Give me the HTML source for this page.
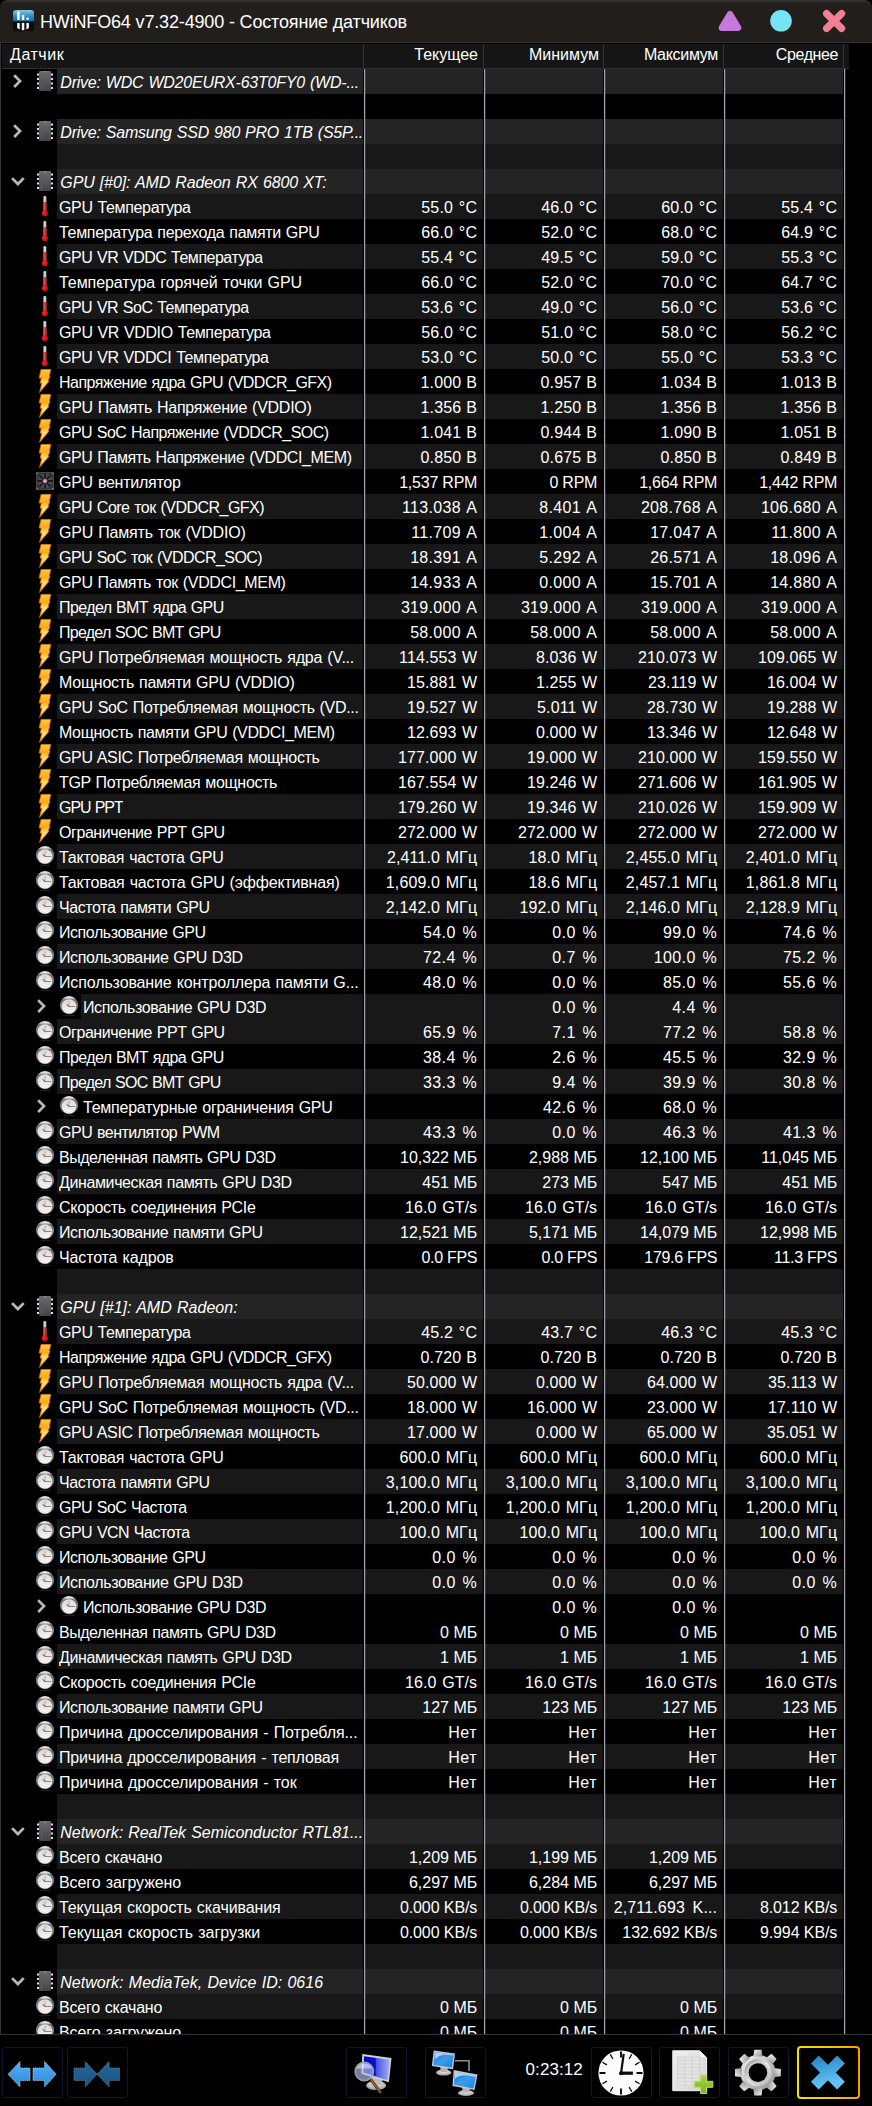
<!DOCTYPE html>
<html lang="ru"><head><meta charset="utf-8"><title>HWiNFO64 v7.32-4900 - Состояние датчиков</title>
<style>
html,body{margin:0;padding:0;background:#000}
body{width:872px;height:2106px;position:relative;overflow:hidden;font-family:"Liberation Sans",sans-serif;color:#fff;font-size:16px}
#tb{position:absolute;left:0;top:0;width:872px;height:42px;box-sizing:border-box;background:#211e1c;border-radius:8px 8px 0 0;border-top:2px solid #313030}
#tt{position:absolute;left:40px;top:-1px;line-height:42px;font-size:18px;white-space:nowrap;letter-spacing:-0.16px}
#l42{position:absolute;left:0;top:42px;width:872px;height:1px;background:#323232}
#hd{position:absolute;left:2px;top:44px;width:847px;height:24px;background:#151515}
#l68{position:absolute;left:2px;top:68px;width:847px;height:1px;background:#2f2f2f}
#lb{position:absolute;left:0;top:42px;width:1px;height:1993px;background:#333}
#l2034{position:absolute;left:0;top:2034px;width:872px;height:1px;background:#333}
.hs{position:absolute;top:44px;width:1px;height:24px;background:#343434}
.ht{position:absolute;top:42px;line-height:25px;white-space:nowrap}
.sep{position:absolute;top:69px;width:1px;height:1965px;background:#a6a6ae;box-shadow:1px 0 0 rgba(166,166,174,.22)}
#list{position:absolute;left:0;top:0;width:872px;height:2034px;overflow:hidden}
.r{position:absolute;left:0;width:872px;height:25px;line-height:25px;white-space:nowrap;
 background:linear-gradient(to right,transparent var(--s,57px),var(--c) var(--s,57px),var(--c) 363px,transparent 363px,transparent 365px,var(--c) 365px,var(--c) 483px,transparent 483px,transparent 485px,var(--c) 485px,var(--c) 603px,transparent 603px,transparent 605px,var(--c) 605px,var(--c) 723px,transparent 723px,transparent 725px,var(--c) 725px,var(--c) 843px,transparent 843px)}
.g{--c:#181818}.b{--c:#000}.p{--c:#242424}
.sub{--s:81px}
.l{position:absolute;left:59px;top:1px;max-width:303px;overflow:hidden;word-spacing:.8px}
.grp .l{font-style:italic;left:60.3px}
.sub .l{left:83px}
.v{position:absolute;top:1px;text-align:right}
.uc{word-spacing:1px;letter-spacing:.2px}.ua{word-spacing:1.5px;letter-spacing:.3px}.uw{word-spacing:1px;letter-spacing:.1px}.um{word-spacing:1px;letter-spacing:.13px}.up{word-spacing:2px;letter-spacing:.4px}.ug{word-spacing:1px;letter-spacing:.1px}.uf{letter-spacing:-.3px}.uv{word-spacing:.5px;letter-spacing:.15px}.uk{letter-spacing:-.1px}.un{letter-spacing:.6px}.ux{word-spacing:3px;letter-spacing:.15px}.ur{letter-spacing:-.22px}
.v1{right:394.8px}.v2{right:274.8px}.v3{right:154.8px}.v4{right:34.8px}
.ic{position:absolute;left:35px;top:0;width:20px;height:25px}
.sub .ic{left:59px}
.ex{position:absolute;left:10px;top:4px;width:16px;height:16px}
.sub .ex{left:34px}
#bar{position:absolute;left:0;top:2035px;width:872px;height:71px;background:#000}
.bt{position:absolute;top:2047px;width:59px;height:49px;border:1px solid #0e1732;border-radius:3px;background:#000}
#bx{position:absolute;left:797px;top:2046px;width:63px;height:53px;border-radius:4px;background:linear-gradient(to right,#f2e400,#f6c800 55%,#ff9a00)}
#bx i{position:absolute;left:2px;top:2px;right:2px;bottom:2px;background:#000;border-radius:2px}
#time{position:absolute;left:525.5px;letter-spacing:.1px;top:2057px;line-height:25px;font-size:17px}
</style></head><body>
<svg width="0" height="0" style="position:absolute">
<defs>
<linearGradient id="gchip" x1="0" y1="0" x2="0" y2="1"><stop offset="0" stop-color="#6c6c70"/><stop offset="1" stop-color="#444446"/></linearGradient>
<linearGradient id="gtube" x1="0" y1="0" x2="1" y2="0"><stop offset="0" stop-color="#9a9a9a"/><stop offset=".5" stop-color="#e6e6e6"/><stop offset="1" stop-color="#9a9a9a"/></linearGradient>
<linearGradient id="gred" x1="0" y1="0" x2="1" y2="0"><stop offset="0" stop-color="#c01818"/><stop offset=".4" stop-color="#e84a4a"/><stop offset="1" stop-color="#c01010"/></linearGradient>
<radialGradient id="gbulb" cx=".4" cy=".4" r=".7"><stop offset="0" stop-color="#f02828"/><stop offset="1" stop-color="#b80808"/></radialGradient>
<linearGradient id="gbolt" x1="0" y1="0" x2="0" y2="1"><stop offset="0" stop-color="#ffc840"/><stop offset=".35" stop-color="#ffa818"/><stop offset=".6" stop-color="#ffe070"/><stop offset="1" stop-color="#ffb020"/></linearGradient>
<linearGradient id="gring" x1="0" y1="0" x2="0" y2="1"><stop offset="0" stop-color="#f4f4f4"/><stop offset=".1" stop-color="#d8d8d8"/><stop offset=".2" stop-color="#727272"/><stop offset=".6" stop-color="#808080"/><stop offset="1" stop-color="#3c3c3c"/></linearGradient>
<linearGradient id="gface" x1="0" y1="0" x2="0" y2="1"><stop offset="0" stop-color="#dadada"/><stop offset=".5" stop-color="#e8e8e8"/><stop offset="1" stop-color="#f6f6f6"/></linearGradient>
<symbol id="chip" viewBox="0 0 20 25"><rect x="4" y="2" width="12" height="20" rx="1" fill="url(#gchip)"/><path d="M8.5 2a1.5 1.5 0 0 0 3 0z" fill="#8a8a8e"/><rect x="6" y="13" width="1.2" height="8" fill="#66666a" opacity=".6"/><g fill="#e4e4e4"><rect x="2" y="4.5" width="2" height="2"/><rect x="2" y="9" width="2" height="2"/><rect x="2" y="13.5" width="2" height="2"/><rect x="2" y="18" width="2" height="2"/><rect x="16" y="4.5" width="2" height="2"/><rect x="16" y="9" width="2" height="2"/><rect x="16" y="13.5" width="2" height="2"/><rect x="16" y="18" width="2" height="2"/></g></symbol>
<symbol id="tmp" viewBox="0 0 20 25"><rect x="8.3" y="2" width="3.1" height="16" rx="1.4" fill="url(#gtube)"/><rect x="8.3" y="8" width="3.1" height="10" fill="url(#gred)"/><circle cx="9.9" cy="19.3" r="3" fill="url(#gbulb)"/></symbol>
<symbol id="pwr" viewBox="0 0 20 25"><path d="M6.1 .2L15.9 .2L14.5 6.7L15 7.4L13.2 11.8L14.1 12.2L4.5 23.5L6.8 14L5 14.3L6.3 9.2L4 9Z" fill="url(#gbolt)" stroke="#c86400" stroke-width=".7" stroke-linejoin="round"/></symbol>
<symbol id="fan" viewBox="0 0 20 25"><rect x="1" y="3" width="18" height="18" fill="#343434"/><rect x="1.5" y="3.5" width="17" height="17" fill="none" stroke="#484848"/><circle cx="10" cy="12" r="7.6" fill="#494949"/><g stroke="#080808" stroke-width="1.3"><path d="M10 4.4V19.6M2.4 12H17.6M4.6 6.6L15.4 17.4M15.4 6.6L4.6 17.4"/></g><g fill="#777"><circle cx="2.3" cy="4.3" r=".9"/><circle cx="17.7" cy="4.3" r=".9"/><circle cx="2.3" cy="19.7" r=".9"/><circle cx="17.7" cy="19.7" r=".9"/></g><circle cx="10" cy="12" r="2.5" fill="#8e3846"/><circle cx="10" cy="12" r="1.8" fill="#bcc0c2"/></symbol>
<symbol id="clk" viewBox="0 0 20 25"><ellipse cx="10" cy="21.3" rx="6.5" ry=".9" fill="#1c1c1c"/><circle cx="10" cy="11.2" r="9.1" fill="url(#gring)"/><circle cx="10" cy="12.5" r="7.3" fill="url(#gface)"/><path d="M10 12.4V7" stroke="#e69a62" stroke-width="1"/><path d="M10.4 12.5H16.4" stroke="#6a6a6a" stroke-width=".8"/><path d="M10 12.4L7.6 10.4" stroke="#3a3a3a" stroke-width="1"/><circle cx="10" cy="12.5" r=".8" fill="#c87840"/><g fill="#b8b8b8"><circle cx="10" cy="18.4" r=".4"/><circle cx="4.2" cy="12.5" r=".4"/><circle cx="15.8" cy="12.5" r=".4"/><circle cx="7" cy="17.5" r=".35"/><circle cx="13" cy="17.5" r=".35"/><circle cx="5" cy="15.4" r=".35"/><circle cx="15" cy="15.4" r=".35"/></g></symbol>
<symbol id="cvr" viewBox="0 0 16 16"><path d="M4.15 2.25L10 8.1L4.15 13.95" fill="none" stroke="#b9b9b9" stroke-width="2.7" stroke-linejoin="miter"/></symbol>
<symbol id="cvd" viewBox="0 0 16 16"><path d="M2.05 5.15L7.9 11L13.75 5.15" fill="none" stroke="#b9b9b9" stroke-width="2.7" stroke-linejoin="miter"/></symbol>
</defs></svg>

<div id="tb">
<svg style="position:absolute;left:12.8px;top:8.4px" width="21" height="21.5" viewBox="0 0 21 22" preserveAspectRatio="none"><defs><linearGradient id="gapp" x1="0" y1="0" x2="0" y2="1"><stop offset="0" stop-color="#8cc4e0"/><stop offset=".6" stop-color="#2a86c0"/><stop offset="1" stop-color="#0f6fb0"/></linearGradient><clipPath id="capp"><rect x="0" y="0" width="21" height="22" rx="3"/></clipPath></defs><g clip-path="url(#capp)"><rect width="21" height="22" fill="#0c0c0c"/><rect width="21" height="11.5" fill="url(#gapp)"/><g fill="#fff"><rect x="4.2" y="1.6" width="2.5" height="8.6"/><rect x="8.8" y="5" width="2.5" height="5.2"/><rect x="13.4" y="7.8" width="2.5" height="2.4" rx="1"/><path d="M4.2 13.2h2.5v6.8l-2.5-1.6z"/><rect x="8.8" y="13.2" width="2.5" height="7.4"/><path d="M13.4 13.2h2.5v5.2l-2.5 1.6z"/></g></g></svg>
<div id="tt">HWiNFO64 v7.32-4900 - Состояние датчиков</div>
<svg style="position:absolute;left:716px;top:6px" width="28" height="26" viewBox="0 0 28 26"><path d="M14 6.1L22.1 19.7H5.9Z" fill="#c678dd" stroke="#c678dd" stroke-width="6.4" stroke-linejoin="round"/></svg>
<svg style="position:absolute;left:768px;top:6px" width="26" height="26" viewBox="0 0 26 26"><circle cx="13" cy="12.8" r="10.8" fill="#76e4f2"/></svg>
<svg style="position:absolute;left:820px;top:6px" width="28" height="26" viewBox="0 0 28 26"><path d="M6.6 5.6L21.6 20.4M21.6 5.6L6.6 20.4" stroke="#f47e96" stroke-width="7.2" stroke-linecap="round"/></svg>
</div>
<div id="l42"></div>
<div id="list">
<div id="hd"></div><div id="l68"></div>
<div class="hs" style="left:363px"></div><div class="hs" style="left:483px"></div><div class="hs" style="left:603px"></div><div class="hs" style="left:723px"></div><div class="hs" style="left:843px"></div>
<div class="ht" style="left:10px;letter-spacing:.55px">Датчик</div>
<div class="ht" style="right:394px">Текущее</div>
<div class="ht" style="right:273px">Минимум</div>
<div class="ht" style="right:154px;letter-spacing:-.3px">Максимум</div>
<div class="ht" style="right:34px;letter-spacing:-.4px">Среднее</div>
<div class="r p grp" style="top:69px"><svg class="ex" viewBox="0 0 16 16"><use href="#cvr"/></svg><svg class="ic" viewBox="0 0 20 25"><use href="#chip"/></svg><span class="l" style="letter-spacing:-0.218px">Drive: WDC WD20EURX-63T0FY0 (WD-...</span></div>
<div class="r b" style="top:94px"></div>
<div class="r p grp" style="top:119px"><svg class="ex" viewBox="0 0 16 16"><use href="#cvr"/></svg><svg class="ic" viewBox="0 0 20 25"><use href="#chip"/></svg><span class="l" style="letter-spacing:-0.224px">Drive: Samsung SSD 980 PRO 1TB (S5P...</span></div>
<div class="r g" style="top:144px"></div>
<div class="r p grp" style="top:169px"><svg class="ex" viewBox="0 0 16 16"><use href="#cvd"/></svg><svg class="ic" viewBox="0 0 20 25"><use href="#chip"/></svg><span class="l" style="letter-spacing:-0.11px">GPU [#0]: AMD Radeon RX 6800 XT:</span></div>
<div class="r g" style="top:194px"><svg class="ic" viewBox="0 0 20 25"><use href="#tmp"/></svg><span class="l" style="letter-spacing:-0.349px">GPU Температура</span><span class="v v1 uc">55.0 °C</span><span class="v v2 uc">46.0 °C</span><span class="v v3 uc">60.0 °C</span><span class="v v4 uc">55.4 °C</span></div>
<div class="r b" style="top:219px"><svg class="ic" viewBox="0 0 20 25"><use href="#tmp"/></svg><span class="l" style="letter-spacing:-0.317px">Температура перехода памяти GPU</span><span class="v v1 uc">66.0 °C</span><span class="v v2 uc">52.0 °C</span><span class="v v3 uc">68.0 °C</span><span class="v v4 uc">64.9 °C</span></div>
<div class="r g" style="top:244px"><svg class="ic" viewBox="0 0 20 25"><use href="#tmp"/></svg><span class="l" style="letter-spacing:-0.491px">GPU VR VDDC Температура</span><span class="v v1 uc">55.4 °C</span><span class="v v2 uc">49.5 °C</span><span class="v v3 uc">59.0 °C</span><span class="v v4 uc">55.3 °C</span></div>
<div class="r b" style="top:269px"><svg class="ic" viewBox="0 0 20 25"><use href="#tmp"/></svg><span class="l" style="letter-spacing:-0.074px">Температура горячей точки GPU</span><span class="v v1 uc">66.0 °C</span><span class="v v2 uc">52.0 °C</span><span class="v v3 uc">70.0 °C</span><span class="v v4 uc">64.7 °C</span></div>
<div class="r g" style="top:294px"><svg class="ic" viewBox="0 0 20 25"><use href="#tmp"/></svg><span class="l" style="letter-spacing:-0.503px">GPU VR SoC Температура</span><span class="v v1 uc">53.6 °C</span><span class="v v2 uc">49.0 °C</span><span class="v v3 uc">56.0 °C</span><span class="v v4 uc">53.6 °C</span></div>
<div class="r b" style="top:319px"><svg class="ic" viewBox="0 0 20 25"><use href="#tmp"/></svg><span class="l" style="letter-spacing:-0.359px">GPU VR VDDIO Температура</span><span class="v v1 uc">56.0 °C</span><span class="v v2 uc">51.0 °C</span><span class="v v3 uc">58.0 °C</span><span class="v v4 uc">56.2 °C</span></div>
<div class="r g" style="top:344px"><svg class="ic" viewBox="0 0 20 25"><use href="#tmp"/></svg><span class="l" style="letter-spacing:-0.405px">GPU VR VDDCI Температура</span><span class="v v1 uc">53.0 °C</span><span class="v v2 uc">50.0 °C</span><span class="v v3 uc">55.0 °C</span><span class="v v4 uc">53.3 °C</span></div>
<div class="r b" style="top:369px"><svg class="ic" viewBox="0 0 20 25"><use href="#pwr"/></svg><span class="l" style="letter-spacing:-0.507px">Напряжение ядра GPU (VDDCR_GFX)</span><span class="v v1 uv">1.000 В</span><span class="v v2 uv">0.957 В</span><span class="v v3 uv">1.034 В</span><span class="v v4 uv">1.013 В</span></div>
<div class="r g" style="top:394px"><svg class="ic" viewBox="0 0 20 25"><use href="#pwr"/></svg><span class="l" style="letter-spacing:-0.264px">GPU Память Напряжение (VDDIO)</span><span class="v v1 uv">1.356 В</span><span class="v v2 uv">1.250 В</span><span class="v v3 uv">1.356 В</span><span class="v v4 uv">1.356 В</span></div>
<div class="r b" style="top:419px"><svg class="ic" viewBox="0 0 20 25"><use href="#pwr"/></svg><span class="l" style="letter-spacing:-0.528px">GPU SoC Напряжение (VDDCR_SOC)</span><span class="v v1 uv">1.041 В</span><span class="v v2 uv">0.944 В</span><span class="v v3 uv">1.090 В</span><span class="v v4 uv">1.051 В</span></div>
<div class="r g" style="top:444px"><svg class="ic" viewBox="0 0 20 25"><use href="#pwr"/></svg><span class="l" style="letter-spacing:-0.393px">GPU Память Напряжение (VDDCI_MEM)</span><span class="v v1 uv">0.850 В</span><span class="v v2 uv">0.675 В</span><span class="v v3 uv">0.850 В</span><span class="v v4 uv">0.849 В</span></div>
<div class="r b" style="top:469px"><svg class="ic" viewBox="0 0 20 25"><use href="#fan"/></svg><span class="l" style="letter-spacing:-0.256px">GPU вентилятор</span><span class="v v1 ur">1,537 RPM</span><span class="v v2 ur">0 RPM</span><span class="v v3 ur">1,664 RPM</span><span class="v v4 ur">1,442 RPM</span></div>
<div class="r g" style="top:494px"><svg class="ic" viewBox="0 0 20 25"><use href="#pwr"/></svg><span class="l" style="letter-spacing:-0.516px">GPU Core ток (VDDCR_GFX)</span><span class="v v1 ua">113.038 A</span><span class="v v2 ua">8.401 A</span><span class="v v3 ua">208.768 A</span><span class="v v4 ua">106.680 A</span></div>
<div class="r b" style="top:519px"><svg class="ic" viewBox="0 0 20 25"><use href="#pwr"/></svg><span class="l" style="letter-spacing:-0.178px">GPU Память ток (VDDIO)</span><span class="v v1 ua">11.709 A</span><span class="v v2 ua">1.004 A</span><span class="v v3 ua">17.047 A</span><span class="v v4 ua">11.800 A</span></div>
<div class="r g" style="top:544px"><svg class="ic" viewBox="0 0 20 25"><use href="#pwr"/></svg><span class="l" style="letter-spacing:-0.548px">GPU SoC ток (VDDCR_SOC)</span><span class="v v1 ua">18.391 A</span><span class="v v2 ua">5.292 A</span><span class="v v3 ua">26.571 A</span><span class="v v4 ua">18.096 A</span></div>
<div class="r b" style="top:569px"><svg class="ic" viewBox="0 0 20 25"><use href="#pwr"/></svg><span class="l" style="letter-spacing:-0.356px">GPU Память ток (VDDCI_MEM)</span><span class="v v1 ua">14.933 A</span><span class="v v2 ua">0.000 A</span><span class="v v3 ua">15.701 A</span><span class="v v4 ua">14.880 A</span></div>
<div class="r g" style="top:594px"><svg class="ic" viewBox="0 0 20 25"><use href="#pwr"/></svg><span class="l" style="letter-spacing:-0.598px">Предел ВМТ ядра GPU</span><span class="v v1 ua">319.000 A</span><span class="v v2 ua">319.000 A</span><span class="v v3 ua">319.000 A</span><span class="v v4 ua">319.000 A</span></div>
<div class="r b" style="top:619px"><svg class="ic" viewBox="0 0 20 25"><use href="#pwr"/></svg><span class="l" style="letter-spacing:-0.736px">Предел SOC ВМТ GPU</span><span class="v v1 ua">58.000 A</span><span class="v v2 ua">58.000 A</span><span class="v v3 ua">58.000 A</span><span class="v v4 ua">58.000 A</span></div>
<div class="r g" style="top:644px"><svg class="ic" viewBox="0 0 20 25"><use href="#pwr"/></svg><span class="l" style="letter-spacing:-0.211px">GPU Потребляемая мощность ядра (V...</span><span class="v v1 uw">114.553 W</span><span class="v v2 uw">8.036 W</span><span class="v v3 uw">210.073 W</span><span class="v v4 uw">109.065 W</span></div>
<div class="r b" style="top:669px"><svg class="ic" viewBox="0 0 20 25"><use href="#pwr"/></svg><span class="l" style="letter-spacing:-0.245px">Мощность памяти GPU (VDDIO)</span><span class="v v1 uw">15.881 W</span><span class="v v2 uw">1.255 W</span><span class="v v3 uw">23.119 W</span><span class="v v4 uw">16.004 W</span></div>
<div class="r g" style="top:694px"><svg class="ic" viewBox="0 0 20 25"><use href="#pwr"/></svg><span class="l" style="letter-spacing:-0.318px">GPU SoC Потребляемая мощность (VD...</span><span class="v v1 uw">19.527 W</span><span class="v v2 uw">5.011 W</span><span class="v v3 uw">28.730 W</span><span class="v v4 uw">19.288 W</span></div>
<div class="r b" style="top:719px"><svg class="ic" viewBox="0 0 20 25"><use href="#pwr"/></svg><span class="l" style="letter-spacing:-0.385px">Мощность памяти GPU (VDDCI_MEM)</span><span class="v v1 uw">12.693 W</span><span class="v v2 uw">0.000 W</span><span class="v v3 uw">13.346 W</span><span class="v v4 uw">12.648 W</span></div>
<div class="r g" style="top:744px"><svg class="ic" viewBox="0 0 20 25"><use href="#pwr"/></svg><span class="l" style="letter-spacing:-0.321px">GPU ASIC Потребляемая мощность</span><span class="v v1 uw">177.000 W</span><span class="v v2 uw">19.000 W</span><span class="v v3 uw">210.000 W</span><span class="v v4 uw">159.550 W</span></div>
<div class="r b" style="top:769px"><svg class="ic" viewBox="0 0 20 25"><use href="#pwr"/></svg><span class="l" style="letter-spacing:-0.334px">TGP Потребляемая мощность</span><span class="v v1 uw">167.554 W</span><span class="v v2 uw">19.246 W</span><span class="v v3 uw">271.606 W</span><span class="v v4 uw">161.905 W</span></div>
<div class="r g" style="top:794px"><svg class="ic" viewBox="0 0 20 25"><use href="#pwr"/></svg><span class="l" style="letter-spacing:-1.064px">GPU PPT</span><span class="v v1 uw">179.260 W</span><span class="v v2 uw">19.346 W</span><span class="v v3 uw">210.026 W</span><span class="v v4 uw">159.909 W</span></div>
<div class="r b" style="top:819px"><svg class="ic" viewBox="0 0 20 25"><use href="#pwr"/></svg><span class="l" style="letter-spacing:-0.429px">Ограничение PPT GPU</span><span class="v v1 uw">272.000 W</span><span class="v v2 uw">272.000 W</span><span class="v v3 uw">272.000 W</span><span class="v v4 uw">272.000 W</span></div>
<div class="r g" style="top:844px"><svg class="ic" viewBox="0 0 20 25"><use href="#clk"/></svg><span class="l" style="letter-spacing:-0.23px">Тактовая частота GPU</span><span class="v v1 um">2,411.0 МГц</span><span class="v v2 um">18.0 МГц</span><span class="v v3 um">2,455.0 МГц</span><span class="v v4 um">2,401.0 МГц</span></div>
<div class="r b" style="top:869px"><svg class="ic" viewBox="0 0 20 25"><use href="#clk"/></svg><span class="l" style="letter-spacing:-0.184px">Тактовая частота GPU (эффективная)</span><span class="v v1 um">1,609.0 МГц</span><span class="v v2 um">18.6 МГц</span><span class="v v3 um">2,457.1 МГц</span><span class="v v4 um">1,861.8 МГц</span></div>
<div class="r g" style="top:894px"><svg class="ic" viewBox="0 0 20 25"><use href="#clk"/></svg><span class="l" style="letter-spacing:-0.409px">Частота памяти GPU</span><span class="v v1 um">2,142.0 МГц</span><span class="v v2 um">192.0 МГц</span><span class="v v3 um">2,146.0 МГц</span><span class="v v4 um">2,128.9 МГц</span></div>
<div class="r b" style="top:919px"><svg class="ic" viewBox="0 0 20 25"><use href="#clk"/></svg><span class="l" style="letter-spacing:-0.45px">Использование GPU</span><span class="v v1 up">54.0 %</span><span class="v v2 up">0.0 %</span><span class="v v3 up">99.0 %</span><span class="v v4 up">74.6 %</span></div>
<div class="r g" style="top:944px"><svg class="ic" viewBox="0 0 20 25"><use href="#clk"/></svg><span class="l" style="letter-spacing:-0.376px">Использование GPU D3D</span><span class="v v1 up">72.4 %</span><span class="v v2 up">0.7 %</span><span class="v v3 up">100.0 %</span><span class="v v4 up">75.2 %</span></div>
<div class="r b" style="top:969px"><svg class="ic" viewBox="0 0 20 25"><use href="#clk"/></svg><span class="l" style="letter-spacing:-0.13px">Использование контроллера памяти G...</span><span class="v v1 up">48.0 %</span><span class="v v2 up">0.0 %</span><span class="v v3 up">85.0 %</span><span class="v v4 up">55.6 %</span></div>
<div class="r g sub" style="top:994px"><svg class="ex" viewBox="0 0 16 16"><use href="#cvr"/></svg><i class="ib"></i><svg class="ic" viewBox="0 0 20 25"><use href="#clk"/></svg><span class="l" style="letter-spacing:-0.4px">Использование GPU D3D</span><span class="v v2 up">0.0 %</span><span class="v v3 up">4.4 %</span></div>
<div class="r g" style="top:1019px"><svg class="ic" viewBox="0 0 20 25"><use href="#clk"/></svg><span class="l" style="letter-spacing:-0.429px">Ограничение PPT GPU</span><span class="v v1 up">65.9 %</span><span class="v v2 up">7.1 %</span><span class="v v3 up">77.2 %</span><span class="v v4 up">58.8 %</span></div>
<div class="r b" style="top:1044px"><svg class="ic" viewBox="0 0 20 25"><use href="#clk"/></svg><span class="l" style="letter-spacing:-0.598px">Предел ВМТ ядра GPU</span><span class="v v1 up">38.4 %</span><span class="v v2 up">2.6 %</span><span class="v v3 up">45.5 %</span><span class="v v4 up">32.9 %</span></div>
<div class="r g" style="top:1069px"><svg class="ic" viewBox="0 0 20 25"><use href="#clk"/></svg><span class="l" style="letter-spacing:-0.736px">Предел SOC ВМТ GPU</span><span class="v v1 up">33.3 %</span><span class="v v2 up">9.4 %</span><span class="v v3 up">39.9 %</span><span class="v v4 up">30.8 %</span></div>
<div class="r b sub" style="top:1094px"><svg class="ex" viewBox="0 0 16 16"><use href="#cvr"/></svg><i class="ib"></i><svg class="ic" viewBox="0 0 20 25"><use href="#clk"/></svg><span class="l" style="letter-spacing:-0.234px">Температурные ограничения GPU</span><span class="v v2 up">42.6 %</span><span class="v v3 up">68.0 %</span></div>
<div class="r g" style="top:1119px"><svg class="ic" viewBox="0 0 20 25"><use href="#clk"/></svg><span class="l" style="letter-spacing:-0.496px">GPU вентилятор PWM</span><span class="v v1 up">43.3 %</span><span class="v v2 up">0.0 %</span><span class="v v3 up">46.3 %</span><span class="v v4 up">41.3 %</span></div>
<div class="r b" style="top:1144px"><svg class="ic" viewBox="0 0 20 25"><use href="#clk"/></svg><span class="l" style="letter-spacing:-0.482px">Выделенная память GPU D3D</span><span class="v v1 ub">10,322 МБ</span><span class="v v2 ub">2,988 МБ</span><span class="v v3 ub">12,100 МБ</span><span class="v v4 ub">11,045 МБ</span></div>
<div class="r g" style="top:1169px"><svg class="ic" viewBox="0 0 20 25"><use href="#clk"/></svg><span class="l" style="letter-spacing:-0.382px">Динамическая память GPU D3D</span><span class="v v1 ub">451 МБ</span><span class="v v2 ub">273 МБ</span><span class="v v3 ub">547 МБ</span><span class="v v4 ub">451 МБ</span></div>
<div class="r b" style="top:1194px"><svg class="ic" viewBox="0 0 20 25"><use href="#clk"/></svg><span class="l" style="letter-spacing:-0.276px">Скорость соединения PCIe</span><span class="v v1 ug">16.0 GT/s</span><span class="v v2 ug">16.0 GT/s</span><span class="v v3 ug">16.0 GT/s</span><span class="v v4 ug">16.0 GT/s</span></div>
<div class="r g" style="top:1219px"><svg class="ic" viewBox="0 0 20 25"><use href="#clk"/></svg><span class="l" style="letter-spacing:-0.391px">Использование памяти GPU</span><span class="v v1 ub">12,521 МБ</span><span class="v v2 ub">5,171 МБ</span><span class="v v3 ub">14,079 МБ</span><span class="v v4 ub">12,998 МБ</span></div>
<div class="r b" style="top:1244px"><svg class="ic" viewBox="0 0 20 25"><use href="#clk"/></svg><span class="l" style="letter-spacing:-0.131px">Частота кадров</span><span class="v v1 uf">0.0 FPS</span><span class="v v2 uf">0.0 FPS</span><span class="v v3 uf">179.6 FPS</span><span class="v v4 uf">11.3 FPS</span></div>
<div class="r g" style="top:1269px"></div>
<div class="r p grp" style="top:1294px"><svg class="ex" viewBox="0 0 16 16"><use href="#cvd"/></svg><svg class="ic" viewBox="0 0 20 25"><use href="#chip"/></svg><span class="l" style="letter-spacing:0.014px">GPU [#1]: AMD Radeon:</span></div>
<div class="r g" style="top:1319px"><svg class="ic" viewBox="0 0 20 25"><use href="#tmp"/></svg><span class="l" style="letter-spacing:-0.349px">GPU Температура</span><span class="v v1 uc">45.2 °C</span><span class="v v2 uc">43.7 °C</span><span class="v v3 uc">46.3 °C</span><span class="v v4 uc">45.3 °C</span></div>
<div class="r b" style="top:1344px"><svg class="ic" viewBox="0 0 20 25"><use href="#pwr"/></svg><span class="l" style="letter-spacing:-0.507px">Напряжение ядра GPU (VDDCR_GFX)</span><span class="v v1 uv">0.720 В</span><span class="v v2 uv">0.720 В</span><span class="v v3 uv">0.720 В</span><span class="v v4 uv">0.720 В</span></div>
<div class="r g" style="top:1369px"><svg class="ic" viewBox="0 0 20 25"><use href="#pwr"/></svg><span class="l" style="letter-spacing:-0.211px">GPU Потребляемая мощность ядра (V...</span><span class="v v1 uw">50.000 W</span><span class="v v2 uw">0.000 W</span><span class="v v3 uw">64.000 W</span><span class="v v4 uw">35.113 W</span></div>
<div class="r b" style="top:1394px"><svg class="ic" viewBox="0 0 20 25"><use href="#pwr"/></svg><span class="l" style="letter-spacing:-0.318px">GPU SoC Потребляемая мощность (VD...</span><span class="v v1 uw">18.000 W</span><span class="v v2 uw">16.000 W</span><span class="v v3 uw">23.000 W</span><span class="v v4 uw">17.110 W</span></div>
<div class="r g" style="top:1419px"><svg class="ic" viewBox="0 0 20 25"><use href="#pwr"/></svg><span class="l" style="letter-spacing:-0.321px">GPU ASIC Потребляемая мощность</span><span class="v v1 uw">17.000 W</span><span class="v v2 uw">0.000 W</span><span class="v v3 uw">65.000 W</span><span class="v v4 uw">35.051 W</span></div>
<div class="r b" style="top:1444px"><svg class="ic" viewBox="0 0 20 25"><use href="#clk"/></svg><span class="l" style="letter-spacing:-0.23px">Тактовая частота GPU</span><span class="v v1 um">600.0 МГц</span><span class="v v2 um">600.0 МГц</span><span class="v v3 um">600.0 МГц</span><span class="v v4 um">600.0 МГц</span></div>
<div class="r g" style="top:1469px"><svg class="ic" viewBox="0 0 20 25"><use href="#clk"/></svg><span class="l" style="letter-spacing:-0.409px">Частота памяти GPU</span><span class="v v1 um">3,100.0 МГц</span><span class="v v2 um">3,100.0 МГц</span><span class="v v3 um">3,100.0 МГц</span><span class="v v4 um">3,100.0 МГц</span></div>
<div class="r b" style="top:1494px"><svg class="ic" viewBox="0 0 20 25"><use href="#clk"/></svg><span class="l" style="letter-spacing:-0.533px">GPU SoC Частота</span><span class="v v1 um">1,200.0 МГц</span><span class="v v2 um">1,200.0 МГц</span><span class="v v3 um">1,200.0 МГц</span><span class="v v4 um">1,200.0 МГц</span></div>
<div class="r g" style="top:1519px"><svg class="ic" viewBox="0 0 20 25"><use href="#clk"/></svg><span class="l" style="letter-spacing:-0.51px">GPU VCN Частота</span><span class="v v1 um">100.0 МГц</span><span class="v v2 um">100.0 МГц</span><span class="v v3 um">100.0 МГц</span><span class="v v4 um">100.0 МГц</span></div>
<div class="r b" style="top:1544px"><svg class="ic" viewBox="0 0 20 25"><use href="#clk"/></svg><span class="l" style="letter-spacing:-0.45px">Использование GPU</span><span class="v v1 up">0.0 %</span><span class="v v2 up">0.0 %</span><span class="v v3 up">0.0 %</span><span class="v v4 up">0.0 %</span></div>
<div class="r g" style="top:1569px"><svg class="ic" viewBox="0 0 20 25"><use href="#clk"/></svg><span class="l" style="letter-spacing:-0.376px">Использование GPU D3D</span><span class="v v1 up">0.0 %</span><span class="v v2 up">0.0 %</span><span class="v v3 up">0.0 %</span><span class="v v4 up">0.0 %</span></div>
<div class="r b sub" style="top:1594px"><svg class="ex" viewBox="0 0 16 16"><use href="#cvr"/></svg><i class="ib"></i><svg class="ic" viewBox="0 0 20 25"><use href="#clk"/></svg><span class="l" style="letter-spacing:-0.4px">Использование GPU D3D</span><span class="v v2 up">0.0 %</span><span class="v v3 up">0.0 %</span></div>
<div class="r b" style="top:1619px"><svg class="ic" viewBox="0 0 20 25"><use href="#clk"/></svg><span class="l" style="letter-spacing:-0.482px">Выделенная память GPU D3D</span><span class="v v1 ub">0 МБ</span><span class="v v2 ub">0 МБ</span><span class="v v3 ub">0 МБ</span><span class="v v4 ub">0 МБ</span></div>
<div class="r g" style="top:1644px"><svg class="ic" viewBox="0 0 20 25"><use href="#clk"/></svg><span class="l" style="letter-spacing:-0.382px">Динамическая память GPU D3D</span><span class="v v1 ub">1 МБ</span><span class="v v2 ub">1 МБ</span><span class="v v3 ub">1 МБ</span><span class="v v4 ub">1 МБ</span></div>
<div class="r b" style="top:1669px"><svg class="ic" viewBox="0 0 20 25"><use href="#clk"/></svg><span class="l" style="letter-spacing:-0.276px">Скорость соединения PCIe</span><span class="v v1 ug">16.0 GT/s</span><span class="v v2 ug">16.0 GT/s</span><span class="v v3 ug">16.0 GT/s</span><span class="v v4 ug">16.0 GT/s</span></div>
<div class="r g" style="top:1694px"><svg class="ic" viewBox="0 0 20 25"><use href="#clk"/></svg><span class="l" style="letter-spacing:-0.391px">Использование памяти GPU</span><span class="v v1 ub">127 МБ</span><span class="v v2 ub">123 МБ</span><span class="v v3 ub">127 МБ</span><span class="v v4 ub">123 МБ</span></div>
<div class="r b" style="top:1719px"><svg class="ic" viewBox="0 0 20 25"><use href="#clk"/></svg><span class="l" style="letter-spacing:-0.076px">Причина дросселирования - Потребля...</span><span class="v v1 un">Нет</span><span class="v v2 un">Нет</span><span class="v v3 un">Нет</span><span class="v v4 un">Нет</span></div>
<div class="r g" style="top:1744px"><svg class="ic" viewBox="0 0 20 25"><use href="#clk"/></svg><span class="l" style="letter-spacing:-0.163px">Причина дросселирования - тепловая</span><span class="v v1 un">Нет</span><span class="v v2 un">Нет</span><span class="v v3 un">Нет</span><span class="v v4 un">Нет</span></div>
<div class="r b" style="top:1769px"><svg class="ic" viewBox="0 0 20 25"><use href="#clk"/></svg><span class="l" style="letter-spacing:-0.072px">Причина дросселирования - ток</span><span class="v v1 un">Нет</span><span class="v v2 un">Нет</span><span class="v v3 un">Нет</span><span class="v v4 un">Нет</span></div>
<div class="r g" style="top:1794px"></div>
<div class="r p grp" style="top:1819px"><svg class="ex" viewBox="0 0 16 16"><use href="#cvd"/></svg><svg class="ic" viewBox="0 0 20 25"><use href="#chip"/></svg><span class="l" style="letter-spacing:-0.05px">Network: RealTek Semiconductor RTL81...</span></div>
<div class="r g" style="top:1844px"><svg class="ic" viewBox="0 0 20 25"><use href="#clk"/></svg><span class="l" style="letter-spacing:-0.229px">Всего скачано</span><span class="v v1 ub">1,209 МБ</span><span class="v v2 ub">1,199 МБ</span><span class="v v3 ub">1,209 МБ</span></div>
<div class="r b" style="top:1869px"><svg class="ic" viewBox="0 0 20 25"><use href="#clk"/></svg><span class="l" style="letter-spacing:-0.094px">Всего загружено</span><span class="v v1 ub">6,297 МБ</span><span class="v v2 ub">6,284 МБ</span><span class="v v3 ub">6,297 МБ</span></div>
<div class="r g" style="top:1894px"><svg class="ic" viewBox="0 0 20 25"><use href="#clk"/></svg><span class="l" style="letter-spacing:-0.109px">Текущая скорость скачивания</span><span class="v v1 uk">0.000 KB/s</span><span class="v v2 uk">0.000 KB/s</span><span class="v v3 ux">2,711.693 K...</span><span class="v v4 uk">8.012 KB/s</span></div>
<div class="r b" style="top:1919px"><svg class="ic" viewBox="0 0 20 25"><use href="#clk"/></svg><span class="l" style="letter-spacing:-0.027px">Текущая скорость загрузки</span><span class="v v1 uk">0.000 KB/s</span><span class="v v2 uk">0.000 KB/s</span><span class="v v3 uk">132.692 KB/s</span><span class="v v4 uk">9.994 KB/s</span></div>
<div class="r g" style="top:1944px"></div>
<div class="r p grp" style="top:1969px"><svg class="ex" viewBox="0 0 16 16"><use href="#cvd"/></svg><svg class="ic" viewBox="0 0 20 25"><use href="#chip"/></svg><span class="l" style="letter-spacing:0.015px">Network: MediaTek, Device ID: 0616</span></div>
<div class="r g" style="top:1994px"><svg class="ic" viewBox="0 0 20 25"><use href="#clk"/></svg><span class="l" style="letter-spacing:-0.229px">Всего скачано</span><span class="v v1 ub">0 МБ</span><span class="v v2 ub">0 МБ</span><span class="v v3 ub">0 МБ</span></div>
<div class="r b" style="top:2019px"><svg class="ic" viewBox="0 0 20 25"><use href="#clk"/></svg><span class="l" style="letter-spacing:-0.094px">Всего загружено</span><span class="v v1 ub">0 МБ</span><span class="v v2 ub">0 МБ</span><span class="v v3 ub">0 МБ</span></div>
<div class="sep" style="left:364px"></div><div class="sep" style="left:484px"></div><div class="sep" style="left:604px"></div><div class="sep" style="left:724px"></div><div class="sep" style="left:844px"></div>
</div>
<div id="lb"></div>
<div id="l2034"></div>
<div id="bar">
</div>
<div class="bt" style="left:2px"></div><div class="bt" style="left:67px"></div><div class="bt" style="left:346px"></div><div class="bt" style="left:425px"></div><div class="bt" style="left:591px"></div><div class="bt" style="left:659px"></div><div class="bt" style="left:728px"></div>
<div id="bx"><i></i></div>
<div id="time">0:23:12</div>
<svg id="tbi" width="872" height="72" viewBox="0 2034 872 72" style="position:absolute;left:0;top:2034px">
<defs>
<linearGradient id="ga1" x1="0" y1="0" x2="0" y2="1"><stop offset="0" stop-color="#52aef4"/><stop offset="1" stop-color="#2f8ad6"/></linearGradient>
<linearGradient id="ga2" x1="0" y1="0" x2="0" y2="1"><stop offset="0" stop-color="#23659a"/><stop offset="1" stop-color="#1b5583"/></linearGradient>
<linearGradient id="gscr" x1="0" y1="0" x2="1" y2="0"><stop offset="0" stop-color="#0606c4"/><stop offset=".45" stop-color="#0a10d0"/><stop offset=".5" stop-color="#4458e4"/><stop offset="1" stop-color="#a6aef4"/></linearGradient>
<linearGradient id="gscr2" x1="0" y1="0" x2="1" y2="1"><stop offset="0" stop-color="#1c78d8"/><stop offset=".5" stop-color="#3c9cec"/><stop offset="1" stop-color="#1a80dc"/></linearGradient>
<radialGradient id="gstd" cx=".5" cy=".3" r=".7"><stop offset="0" stop-color="#f2f2f2"/><stop offset="1" stop-color="#9c9c9c"/></radialGradient>
<linearGradient id="gdoc" x1="0" y1="0" x2="1" y2="1"><stop offset="0" stop-color="#f0f0f0"/><stop offset="1" stop-color="#d2d2d2"/></linearGradient>
<linearGradient id="gplus" x1="0" y1="0" x2="0" y2="1"><stop offset="0" stop-color="#a8d840"/><stop offset="1" stop-color="#7cb028"/></linearGradient>
<linearGradient id="ggear" x1="0" y1="0" x2="1" y2="1"><stop offset="0" stop-color="#f4f4f4"/><stop offset=".5" stop-color="#c4c4c4"/><stop offset="1" stop-color="#8e8e8e"/></linearGradient>
<linearGradient id="ggear2" x1="0" y1="0" x2="1" y2="1"><stop offset="0" stop-color="#8a8a8a"/><stop offset=".5" stop-color="#e8e8e8"/><stop offset="1" stop-color="#b0b0b0"/></linearGradient>
<linearGradient id="gx" x1="0" y1="0" x2=".25" y2="1"><stop offset="0" stop-color="#2c88c8"/><stop offset=".5" stop-color="#48a6e0"/><stop offset="1" stop-color="#62c2f4"/></linearGradient>
</defs>
<!-- b1 expand arrows -->
<g stroke="#c4d8ec" stroke-width=".7" stroke-dasharray="1.4 .6" fill="url(#ga1)">
<path d="M8 2074.2L20 2061.5V2068H30V2080.4H20V2086.9Z"/>
<path d="M56.1 2074.2L44.6 2061.5V2068H33V2080.4H44.6V2086.9Z"/>
</g>
<!-- b2 collapse arrows -->
<g stroke="#7c848c" stroke-width=".7" stroke-dasharray="1.3 .7" fill="url(#ga2)">
<path d="M97.1 2074.2L85.3 2061.5V2068H74V2080.4H85.3V2086.9Z"/>
<path d="M97.1 2074.2L109.1 2061.5V2068H119.6V2080.4H109.1V2086.9Z"/>
</g>
<!-- b3 monitor + magnifier -->
<ellipse cx="376.1" cy="2085.4" rx="10" ry="4.6" fill="url(#gstd)"/>
<path d="M370 2076L383 2079L381 2085H372Z" fill="#bcbcbc"/>
<path d="M362.3 2054.1L391.5 2058.1L388.9 2082.3L361.5 2073.8Z" fill="#d2d2d6"/>
<path d="M364 2056.2L389.8 2059.7L387.6 2080.2L363.4 2072.6Z" fill="url(#gscr)"/>
<path d="M371.5 2080.3L380.3 2092.3" stroke="#5a3410" stroke-width="3" stroke-linecap="round"/>
<path d="M371.5 2080.3L380 2091.8" stroke="#a06430" stroke-width="1.3" stroke-linecap="round"/>
<circle cx="364.3" cy="2071.5" r="9.2" fill="#b4c2e6" fill-opacity=".66" stroke="#9aa2b0" stroke-width="1.5"/>
<path d="M356.2 2068.5A9 9 0 0 1 372.4 2068.5Z" fill="#e6ecfa" fill-opacity=".55"/>
<!-- b4 network monitors -->
<path d="M455 2060.7H469V2071" fill="none" stroke="#8a9298" stroke-width="1.6"/>
<ellipse cx="443.7" cy="2072.6" rx="7.6" ry="3" fill="url(#gstd)"/>
<path d="M440 2066L448 2067.5L447 2072H441Z" fill="#b4b4b4"/>
<path d="M433.7 2050.5L455 2053.5L453 2069.2L431.9 2066.1Z" fill="#c6cad0"/>
<path d="M435 2052.1L453.6 2054.8L451.9 2067.6L433.4 2064.9Z" fill="url(#gscr2)"/>
<path d="M435.2 2059.5Q440 2052.8 452.6 2055.6L452.8 2054.7L435.2 2052.2Z" fill="#cfe6fa" fill-opacity=".8"/>
<ellipse cx="466" cy="2093" rx="8" ry="3" fill="url(#gstd)"/>
<path d="M462 2086L470 2087.5L469.4 2092.5H462.6Z" fill="#b4b4b4"/>
<path d="M453.7 2070L477.5 2074.5L474.5 2090L452.5 2086Z" fill="#c6cad0"/>
<path d="M455 2071.7L476 2075.7L473.5 2088.4L454 2084.8Z" fill="url(#gscr2)"/>
<path d="M455 2079Q460 2072.8 475.6 2077L475.8 2075.8L455 2071.8Z" fill="#cfe6fa" fill-opacity=".8"/>
<!-- b5 clock -->
<circle cx="621" cy="2073" r="22.6" fill="#fbfbfb"/>
<g stroke="#0a0a0a" stroke-linecap="butt">
<path d="M621 2051.5V2057.5M621 2088.5V2094.5M599.5 2073H605.5M636.5 2073H642.5" stroke-width="1.9"/>
<path d="M631.75 2054.38L629.1 2058.97M639.62 2062.25L635.03 2064.9M639.62 2083.75L635.03 2081.1M631.75 2091.62L629.1 2087.03M610.25 2091.62L612.9 2087.03M602.38 2083.75L606.97 2081.1M602.38 2062.25L606.97 2064.9M610.25 2054.38L612.9 2058.97" stroke-width="1.3"/>
<path d="M621 2073.4L623.7 2053.8" stroke-width="2.2"/>
<path d="M620 2073.2H632.9" stroke-width="3.2"/>
</g>
<circle cx="621" cy="2073.2" r="2" fill="#0a0a0a"/>
<!-- b6 document + plus -->
<path d="M672.8 2050.8H699.6L706.6 2057.8V2090.7H672.8Z" fill="url(#gdoc)" stroke="#f6f6f6" stroke-width="1"/>
<path d="M699.6 2050.8V2057.8H706.6Z" fill="#fafafa" stroke="#c8c8c8" stroke-width=".6"/>
<g stroke="#cdcdcd" stroke-width=".7" fill="none"><rect x="677.5" y="2057" width="22" height="28" fill="#e4e4e4"/><path d="M677.5 2060.5h22M677.5 2064h22M677.5 2067.5h22M677.5 2071h22M677.5 2074.5h22M677.5 2078h22M677.5 2081.5h22M684.8 2057v28M692.2 2057v28"/></g>
<path d="M700.6 2075.1h6v6.2h6.2v6h-6.2v6.2h-6v-6.2h-6.2v-6h6.2Z" fill="url(#gplus)" stroke="#b6e060" stroke-width="1" stroke-linejoin="round"/>
<!-- b7 gear -->
<g transform="translate(757.9 2072.6)">
<g fill="url(#ggear)"><circle r="17.6"/>
<g id="tooth"><path d="M-4.6-16L-3.6-22.9H3.6L4.6-16Z"/></g>
<use href="#tooth" transform="rotate(45)"/><use href="#tooth" transform="rotate(90)"/><use href="#tooth" transform="rotate(135)"/><use href="#tooth" transform="rotate(180)"/><use href="#tooth" transform="rotate(225)"/><use href="#tooth" transform="rotate(270)"/><use href="#tooth" transform="rotate(315)"/></g>
<circle r="13.6" fill="url(#ggear2)"/><circle r="11" fill="#c9c9c9"/><circle r="9.3" fill="#000"/>
</g>
<!-- b8 close X -->
<path d="M814.8 2059.5L841 2085.7M841 2059.5L814.8 2085.7" stroke="url(#gx)" stroke-width="11" fill="none"/>
</svg>

</body></html>
